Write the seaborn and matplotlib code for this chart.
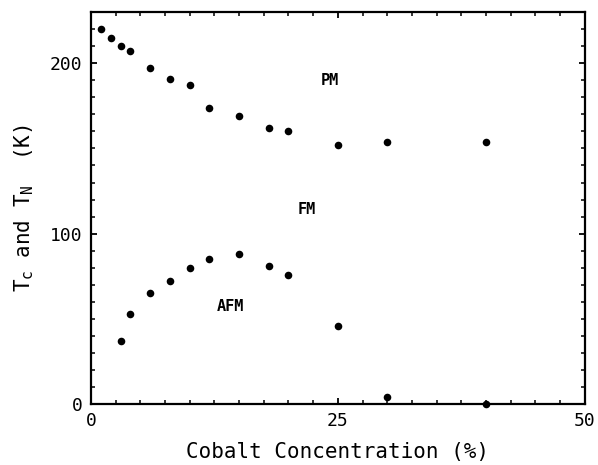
import matplotlib
matplotlib.use("Agg")
import matplotlib.pyplot as plt
import seaborn as sns
import pandas as pd
from matplotlib.ticker import MultipleLocator

# Data
tc_conc = [1, 2, 3, 4, 6, 8, 10, 12, 15, 18, 20, 25, 30, 40]
tc_vals = [220, 215, 210, 207, 197, 191, 187, 174, 169, 162, 160, 152, 154, 154]
tn_conc = [3, 4, 6, 8, 10, 12, 15, 18, 20, 25, 30, 40]
tn_vals = [37, 53, 65, 72, 80, 85, 88, 81, 76, 46, 4, 0]

region_labels = ["PM", "FM", "AFM"]
region_x = [24.2, 21.9, 14.1]
region_y = [190, 114, 57]

x_ticks = [0, 25, 50]
y_ticks = [0, 100, 200]

sns.set_theme(style="ticks")
plt.rcParams["font.family"] = ["DejaVu Sans Mono", "DejaVu Sans"]
plt.rcParams["mathtext.default"] = "regular"
plt.rcParams["text.color"] = "black"
plt.rcParams["axes.labelcolor"] = "black"
plt.rcParams["xtick.labelcolor"] = "black"
plt.rcParams["ytick.labelcolor"] = "black"

fig = plt.figure(figsize=(5.98, 4.65), dpi=100)
ax = fig.add_axes([0.152, 0.131, 0.826, 0.843])

df = pd.concat([
    pd.DataFrame({"conc": tc_conc, "T": tc_vals, "kind": "Tc"}),
    pd.DataFrame({"conc": tn_conc, "T": tn_vals, "kind": "Tn"}),
])
sns.scatterplot(data=df, x="conc", y="T", color="black", s=30,
                edgecolor="black", linewidth=0, ax=ax, legend=False, clip_on=False, zorder=3)

ax.set_xlim(0, 50)
ax.set_ylim(0, 230)
ax.set_xticks(x_ticks)
ax.set_yticks(y_ticks)
ax.xaxis.set_minor_locator(MultipleLocator(2.5))
ax.yaxis.set_minor_locator(MultipleLocator(10))
ax.tick_params(which="both", direction="in", top=True, right=True, color="black")
ax.tick_params(which="major", length=4, width=1.3, labelsize=13, pad=6)
ax.tick_params(which="minor", length=3, width=1.1)
for sp in ax.spines.values():
    sp.set_linewidth(1.6)
    sp.set_color("black")

for lab, x, y in zip(region_labels, region_x, region_y):
    ax.text(x, y, lab, ha="center", va="center", fontsize=11, fontweight="bold", color="black")

ax.set_xlabel("Cobalt Concentration (%)", fontsize=15, labelpad=8)
ax.set_ylabel("T$_\\mathregular{c}$ and T$_\\mathregular{N}$  (K)", fontsize=15, labelpad=10)

fig.savefig("out.png", dpi=100)
